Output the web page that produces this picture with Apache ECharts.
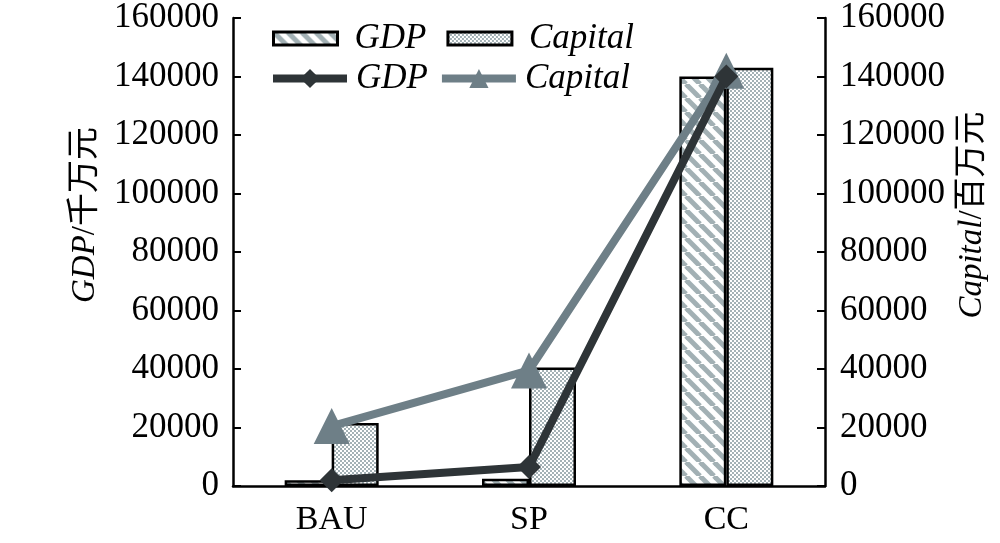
<!DOCTYPE html>
<html>
<head>
<meta charset="utf-8">
<script src="https://cdn.jsdelivr.net/npm/echarts@6/dist/echarts.min.js"></script>
<style>
  html, body { margin: 0; padding: 0; background: #fff; }
  #main { width: 1000px; height: 543px; }
</style>
</head>
<body>
<div id="main"></div>
<script>
// 数据
var categories = ["BAU", "SP", "CC"];
var gdpBar = [2000, 2500, 140000];
var capitalBar = [21500, 40500, 143000];
var gdpLine = [2000, 6500, 140000];
var capitalLine = [20500, 39500, 142000];
var yTicks = [0, 160000, 20000]; // min, max, interval

var serif = "'Liberation Serif', 'Times New Roman', serif";
var cjk = "'Liberation Serif', 'Noto Sans CJK SC', serif";

// 斜条纹填充
function stripeTile() {
  var c = document.createElement("canvas");
  var s = 14;
  c.width = s;
  c.height = s;
  var ctx = c.getContext("2d");
  ctx.fillStyle = "#fff";
  ctx.fillRect(0, 0, s, s);
  ctx.strokeStyle = "#a2b0b4";
  ctx.lineWidth = 5;
  [-s, 0, s].forEach(function (o) {
    ctx.beginPath();
    ctx.moveTo(o, 0);
    ctx.lineTo(o + s, s);
    ctx.stroke();
  });
  return c;
}
// 网格填充
function checkerTile() {
  var c = document.createElement("canvas");
  c.width = 4;
  c.height = 4;
  var ctx = c.getContext("2d");
  ctx.fillStyle = "#fff";
  ctx.fillRect(0, 0, 4, 4);
  ctx.fillStyle = "#a4b2b6";
  ctx.fillRect(0, 0, 2, 2);
  ctx.fillRect(2, 2, 2, 2);
  return c;
}

var chart = echarts.init(document.getElementById("main"), null, { renderer: "canvas" });

var labelName = function (name) {
  return name.split("_")[0];
};
var plain = function (v) {
  return String(v);
};

var legendFont = { fontFamily: serif, fontStyle: "italic", fontSize: 35, color: "#000" };

var option = {
  animation: false,
  grid: { left: 233, right: 175, top: 18, bottom: 57 },
  legend: [
    {
      data: [
        { name: "GDP_bar", icon: "rect" },
        { name: "Capital_bar", icon: "rect" },
      ],
      left: 267,
      top: 16,
      itemWidth: 64,
      itemHeight: 13,
      itemGap: 20,
      formatter: labelName,
      itemStyle: { borderWidth: 3 },
      textStyle: Object.assign({ padding: [0, 0, 0, 12] }, legendFont),
    },
    {
      data: ["GDP_line", "Capital_line"],
      left: 264,
      top: 56,
      itemWidth: 74,
      itemHeight: 24,
      itemGap: 10,
      formatter: labelName,
      lineStyle: { width: 8 },
      textStyle: Object.assign({ padding: [0, 0, 0, 4] }, legendFont),
    },
  ],
  xAxis: {
    type: "category",
    data: categories,
    axisLine: { lineStyle: { color: "#000", width: 2.5 } },
    axisTick: { inside: true, length: 8, lineStyle: { width: 2 } },
    axisLabel: { fontFamily: serif, fontSize: 34, color: "#000", margin: 17 },
  },
  yAxis: [
    {
      type: "value",
      min: yTicks[0],
      max: yTicks[1],
      interval: yTicks[2],
      splitLine: { show: false },
      axisLine: { show: true, lineStyle: { color: "#000", width: 2.5 } },
      axisTick: { show: true, inside: true, length: 8, lineStyle: { width: 2 } },
      axisLabel: { fontFamily: serif, fontSize: 35, color: "#000", margin: 14, formatter: plain },
    },
    {
      type: "value",
      position: "right",
      min: yTicks[0],
      max: yTicks[1],
      interval: yTicks[2],
      splitLine: { show: false },
      axisLine: { show: true, lineStyle: { color: "#000", width: 2.5 } },
      axisTick: { show: true, inside: true, length: 8, lineStyle: { width: 2 } },
      axisLabel: { fontFamily: serif, fontSize: 35, color: "#000", margin: 15, formatter: plain },
    },
  ],
  graphic: [
    {
      type: "text",
      x: 85,
      y: 215,
      rotation: Math.PI / 2,
      style: {
        text: "{i|GDP}{n|/千万元}",
        align: "center",
        verticalAlign: "middle",
        rich: {
          i: { fontFamily: serif, fontStyle: "italic", fontSize: 33, fill: "#000" },
          n: { fontFamily: cjk, fontSize: 33, fill: "#000" },
        },
      },
    },
    {
      type: "text",
      x: 972,
      y: 215,
      rotation: Math.PI / 2,
      style: {
        text: "{i|Capital}{n|/百万元}",
        align: "center",
        verticalAlign: "middle",
        rich: {
          i: { fontFamily: serif, fontStyle: "italic", fontSize: 33, fill: "#000" },
          n: { fontFamily: cjk, fontSize: 33, fill: "#000" },
        },
      },
    },
  ],
  series: [
    {
      name: "GDP_bar",
      type: "bar",
      data: gdpBar,
      barWidth: 47,
      barGap: "0%",
      itemStyle: { color: { image: stripeTile(), repeat: "repeat" }, borderColor: "#000", borderWidth: 2.5 },
    },
    {
      name: "Capital_bar",
      type: "bar",
      yAxisIndex: 1,
      data: capitalBar,
      barWidth: 47,
      barGap: "0%",
      itemStyle: { color: { image: checkerTile(), repeat: "repeat" }, borderColor: "#000", borderWidth: 2.5 },
    },
    {
      name: "GDP_line",
      type: "line",
      data: gdpLine,
      symbol: "diamond",
      symbolSize: 24,
      z: 4,
      lineStyle: { color: "#2e3437", width: 8 },
      itemStyle: { color: "#2e3437" },
    },
    {
      name: "Capital_line",
      type: "line",
      yAxisIndex: 1,
      data: capitalLine,
      symbol: "triangle",
      symbolSize: 36,
      z: 3,
      lineStyle: { color: "#6e7f87", width: 8 },
      itemStyle: { color: "#6e7f87" },
    },
  ],
};

chart.setOption(option);
</script>
</body>
</html>
